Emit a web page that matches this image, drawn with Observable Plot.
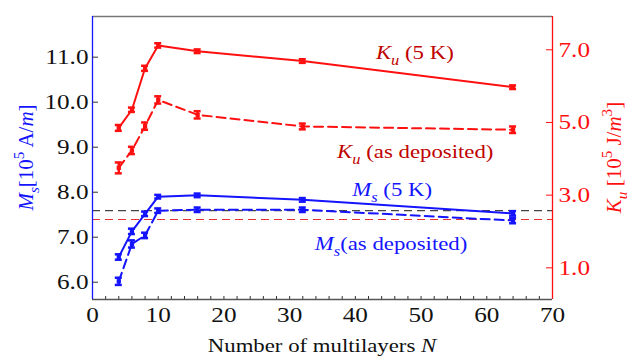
<!DOCTYPE html>
<html><head><meta charset="utf-8">
<script src="https://cdn.jsdelivr.net/npm/d3@7"></script>
<script src="https://cdn.jsdelivr.net/npm/@observablehq/plot@0.6"></script>
<style>body{margin:0;background:#fff}</style>
</head><body><div id="chart"></div>
<script>
// ---- data ----
const N = [4, 6, 8, 10, 16, 32, 64];
const ku5K = [4.85, 5.35, 6.49, 7.12, 6.96, 6.69, 5.97];
const ku5KErr = [0.08, 0.06, 0.07, 0.06, 0.05, 0.05, 0.05];
const kuDep = [3.75, 4.23, 4.90, 5.62, 5.21, 4.89, 4.80];
const kuDepErr = [0.15, 0.10, 0.10, 0.10, 0.10, 0.08, 0.09];
const ms5K = [6.56, 7.13, 7.52, 7.90, 7.93, 7.83, 7.53];
const ms5KErr = [0.06, 0.06, 0.05, 0.04, 0.04, 0.04, 0.05];
const msDep = [6.02, 6.85, 7.04, 7.59, 7.61, 7.61, 7.37];
const msDepErr = [0.08, 0.08, 0.06, 0.05, 0.05, 0.05, 0.06];
const msRef = 7.59;   // left axis units
const kuRef = 2.33;   // right axis units
const leftTicks = [6, 7, 8, 9, 10, 11];
const rightTicks = [1, 3, 5, 7];
const xTicks = [0, 10, 20, 30, 40, 50, 60, 70];
const xMinorTicks = d3.range(2, 70, 2);

// ---- layout ----
const W = 629, H = 358;
const mL = 92, mR = 77, mT = 16, mB = 59;
const xDomain = [0, 70];
const yDomain = [5.616, 11.904];
const pxX = (W - mL - mR) / (xDomain[1] - xDomain[0]);
const pxY = (H - mT - mB) / (yDomain[1] - yDomain[0]);
const toLeft = r => 5.5126 + 0.80741 * r; // right axis (Ku) -> left axis units
const RED = "#ff1010", BLUE = "#1414ff", DARKRED = "#c00000";
const SERIF = "'Liberation Serif','Times New Roman',Times,serif";

function series(ys, errs, conv) {
  return N.map((n, i) => ({N: n, y: conv(ys[i]), lo: conv(ys[i] - errs[i]), hi: conv(ys[i] + errs[i])}));
}
const id = v => v;
const sKu5K = series(ku5K, ku5KErr, toLeft);
const sKuDep = series(kuDep, kuDepErr, toLeft);
const sMs5K = series(ms5K, ms5KErr, id);
const sMsDep = series(msDep, msDepErr, id);

const capW = 3.5 / pxX;
function errMarks(data, color, dashed) {
  return [
    Plot.line(data, {x: "N", y: "y", stroke: color, strokeWidth: 2, strokeDasharray: dashed ? "9,5" : null}),
    Plot.ruleX(data, {x: "N", y1: "lo", y2: "hi", stroke: color, strokeWidth: 2.5}),
    Plot.ruleY(data, {y: "lo", x1: d => d.N - capW, x2: d => d.N + capW, stroke: color, strokeWidth: 2.5}),
    Plot.ruleY(data, {y: "hi", x1: d => d.N - capW, x2: d => d.N + capW, stroke: color, strokeWidth: 2.5}),
    Plot.dot(data, {x: "N", y: "y", symbol: "square", r: 2.4, fill: color, stroke: null})
  ];
}

const chart = Plot.plot({
  width: W, height: H,
  marginLeft: mL, marginRight: mR, marginTop: mT, marginBottom: mB,
  style: {fontFamily: SERIF, fontSize: "21px", background: "#fff", color: "#111"},
  x: {domain: xDomain},
  y: {domain: yDomain},
  marks: [
    // reference lines
    Plot.ruleY([msRef], {stroke: "#444", strokeWidth: 1.2, strokeDasharray: "8,5"}),
    Plot.ruleY([toLeft(kuRef)], {stroke: "#e83030", strokeWidth: 1.2, strokeDasharray: "8,5"}),
    // data
    ...errMarks(sKuDep, RED, true),
    ...errMarks(sKu5K, RED, false),
    ...errMarks(sMsDep, BLUE, true),
    ...errMarks(sMs5K, BLUE, false),
    // frame
    Plot.ruleY([yDomain[1]], {stroke: "#777", strokeWidth: 1.3}),
    Plot.ruleY([yDomain[0]], {stroke: "#555", strokeWidth: 1.3}),
    Plot.ruleX([xDomain[0]], {stroke: BLUE, strokeWidth: 1.3}),
    Plot.ruleX([xDomain[1]], {stroke: RED, strokeWidth: 1.3}),
    // inward ticks
    Plot.ruleX(xMinorTicks, {x: d => d, y1: yDomain[0], y2: yDomain[0] + 3 / pxY, stroke: "#333"}),
    Plot.ruleY(leftTicks, {y: d => d, x1: xDomain[0], x2: xDomain[0] + 6 / pxX, stroke: "#333"}),
    Plot.ruleY(rightTicks, {y: d => toLeft(d), x1: xDomain[1] - 6 / pxX, x2: xDomain[1], stroke: RED}),
    // axes labels
    Plot.axisX({ticks: xTicks, tickSize: 0, tickPadding: 8, label: null, fontSize: 21, fill: "#111"}),
    Plot.axisY({anchor: "left", ticks: leftTicks, tickFormat: d3.format(".1f"), tickSize: 0, tickPadding: 4, label: null, fontSize: 21, fill: "#111"}),
    Plot.axisY({anchor: "right", ticks: rightTicks.map(toLeft), tickFormat: d => d3.format(".1f")((d - 5.5126) / 0.80741), tickSize: 0, tickPadding: 6, label: null, fontSize: 21, fill: RED})
  ]
});

const svg = d3.select(chart);
const sx = chart.scale("x"), sy = chart.scale("y");

// horizontal stretch of Times-like glyphs
const SX = 1.2;
chart.querySelectorAll("text").forEach(t => {
  const x = +t.getAttribute("x") || 0, y = +t.getAttribute("y") || 0;
  const tr = t.getAttribute("transform") || "";
  t.setAttribute("transform", `${tr} translate(${x},${y}) scale(${SX},1) translate(${-x},${-y})`);
});

// rich text helper: parts = [[text, style]] style: i (italic), sub, sup
function rich(parent, parts, size, anchor) {
  const t = parent.append("text").attr("font-family", SERIF).attr("font-size", size)
    .attr("text-anchor", anchor);
  let shift = 0;
  parts.forEach(([s, st = ""]) => {
    const sp = t.append("tspan").text(s);
    if (st.includes("i")) sp.attr("font-style", "italic");
    let target = 0;
    if (st.includes("sub")) { target = 0.3 * size; sp.attr("font-size", size * 0.72); }
    if (st.includes("sup")) { target = -0.42 * size; sp.attr("font-size", size * 0.72); }
    sp.attr("dy", target - shift);
    shift = target;
  });
  return t;
}

// annotations (left edge, baseline; data units)
const notes = [
  {x: 43.2, y: 10.95, color: DARKRED, parts: [["K", "i"], ["u", "i sub"], [" (5 K)"]]},
  {x: 37.3, y: 8.75, color: DARKRED, parts: [["K", "i"], ["u", "i sub"], [" (as deposited)"]]},
  {x: 39.6, y: 7.90, color: BLUE, parts: [["M", "i"], ["s", "i sub"], [" (5 K)"]]},
  {x: 33.9, y: 6.70, color: BLUE, parts: [["M", "i"], ["s", "i sub"], ["(as deposited)"]]}
];
notes.forEach(n => {
  const X = sx.apply(n.x), Y = sy.apply(n.y);
  rich(svg, n.parts, 19, "start").attr("fill", n.color)
    .attr("transform", `translate(${X},${Y}) scale(${SX},1)`);
});

// axis titles
rich(svg, [["Number of multilayers "], ["N", "i"]], 19, "middle")
  .attr("fill", "#111")
  .attr("transform", `translate(${(mL + W - mR) / 2},352) scale(${SX},1)`);
rich(svg, [["M", "i"], ["s", "i sub"], ["[10"], ["5", "sup"], [" A/"], ["m", "i"], ["]"]], 21, "middle")
  .attr("fill", BLUE)
  .attr("transform", `translate(33,${(mT + H - mB) / 2}) rotate(-90)`);
rich(svg, [["K", "i"], ["u", "i sub"], [" [10"], ["5", "sup"], [" J/"], ["m", "i"], ["3", "sup"], ["]"]], 21, "middle")
  .attr("fill", RED)
  .attr("transform", `translate(621,${(mT + H - mB) / 2}) rotate(-90)`);

document.getElementById("chart").append(chart);
</script>
</body></html>
